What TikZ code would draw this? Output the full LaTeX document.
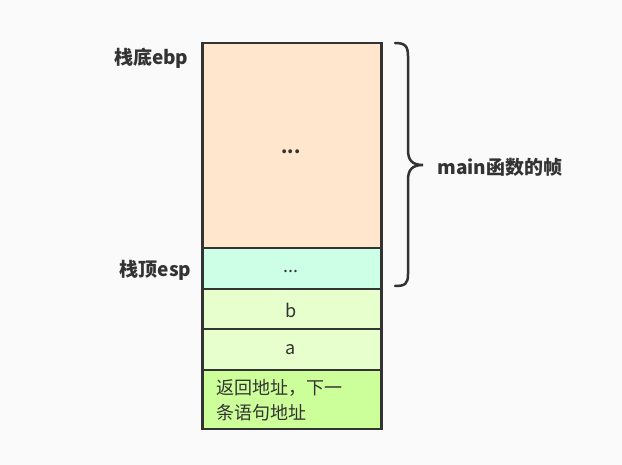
\documentclass[tikz,border=0pt]{standalone}
\usepackage{fontspec}
\setmainfont{Noto Sans CJK SC}
\begin{document}
\begin{tikzpicture}[x=1pt,y=-1pt,
  cell/.style={draw=black!80,line width=2.5pt,minimum width=179pt,inner sep=0pt,anchor=north west},
  lbl/.style={font=\fontsize{19}{22}\selectfont\bfseries,text=black!80},
  txt/.style={font=\fontsize{18}{25}\selectfont,text=black!80}]
\fill[white!98!black] (0,0) rectangle (622,465);
\useasboundingbox (0,0) rectangle (622,465);
\node[cell,fill={rgb,255:red,255;green,230;blue,204},minimum height=205pt] (f) at (201,42) {};
\node[cell,fill={rgb,255:red,204;green,255;blue,230},minimum height=41pt] (t) at (201,247) {};
\node[cell,fill={rgb,255:red,230;green,255;blue,204},minimum height=40pt] (b) at (201,288) {};
\node[cell,fill={rgb,255:red,230;green,255;blue,204},minimum height=41pt] (a) at (201,328) {};
\node[cell,fill={rgb,255:red,204;green,255;blue,153},minimum height=59pt] (r) at (201,369) {};
\node[txt,font=\fontsize{18}{25}\selectfont\bfseries] (fd) at (291,152) {...};
\node[txt] (td) at (291,271) {...};
\node[txt] (bt) at (291,310) {b};
\node[txt] (at) at (291,350) {a};
\node[txt,align=left,anchor=north west,inner sep=0pt] (rt) at (216,379) {返回地址，下一\\条语句地址};
\node[lbl,anchor=east] (ebp) at (192,58) {栈底ebp};
\node[lbl,anchor=east] (esp) at (195,270) {栈顶esp};
\coordinate (bt0) at (395,43);
\coordinate (bb0) at (395,286);
\coordinate (tip) at (423,165);
\draw[black!80,line width=2.5pt,line cap=round]
  (bt0) .. controls (405,43) and (408,46) .. (408,56)
  -- (408,150) .. controls (408,160) and (412,165) .. (tip)
  .. controls (412,165) and (408,170) .. (408,180)
  -- (408,274) .. controls (408,284) and (405,286) .. (bb0);
\node[lbl,anchor=west] (main) at (434,167) {main函数的帧};
\end{tikzpicture}
\end{document}
